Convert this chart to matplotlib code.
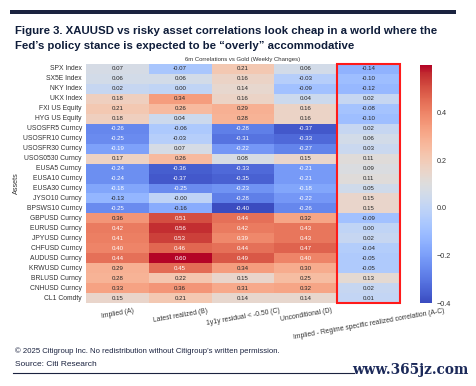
import matplotlib
matplotlib.use("Agg")
import matplotlib.pyplot as plt
import numpy as np
import pandas as pd
import seaborn as sns
from matplotlib.patches import Rectangle
from matplotlib.lines import Line2D

assets = ["SPX Index", "SX5E Index", "NKY Index", "UKX Index", "FXI US Equity",
          "HYG US Equity", "USOSFR5 Curncy", "USOSFR10 Curncy", "USOSFR30 Curncy",
          "USOS0530 Curncy", "EUSA5 Curncy", "EUSA10 Curncy", "EUSA30 Curncy",
          "JYSO10 Curncy", "BPSWS10 Curncy", "GBPUSD Curncy", "EURUSD Curncy",
          "JPYUSD Curncy", "CHFUSD Curncy", "AUDUSD Curncy", "KRWUSD Curncy",
          "BRLUSD Curncy", "CNHUSD Curncy", "CL1 Comdty"]
columns = ["Implied (A)", "Latest realized (B)", "1y1y residual < -0.50 (C)",
           "Unconditional (D)", "Implied - Regime specific realized correlation (A-C)"]

implied_a = [0.07, 0.06, 0.02, 0.18, 0.21, 0.18, -0.26, -0.25, -0.19, 0.17, -0.24, -0.24,
             -0.18, -0.13, -0.25, 0.36, 0.42, 0.41, 0.40, 0.44, 0.29, 0.28, 0.33, 0.15]
latest_b = [-0.07, 0.06, 0.00, 0.34, 0.26, 0.04, -0.06, -0.03, 0.07, 0.26, -0.36, -0.37,
            -0.25, -0.004, -0.16, 0.51, 0.56, 0.53, 0.46, 0.60, 0.45, 0.22, 0.36, 0.21]
resid_c = [0.21, 0.16, 0.14, 0.16, 0.29, 0.28, -0.28, -0.31, -0.22, 0.08, -0.33, -0.35,
           -0.23, -0.28, -0.40, 0.44, 0.42, 0.39, 0.44, 0.49, 0.34, 0.15, 0.31, 0.14]
uncond_d = [0.06, -0.03, -0.09, 0.04, 0.16, 0.16, -0.37, -0.33, -0.27, 0.15, -0.21, -0.21,
            -0.18, -0.22, -0.26, 0.32, 0.43, 0.43, 0.47, 0.40, 0.30, 0.25, 0.32, 0.14]
diff_ac = [-0.14, -0.10, -0.12, 0.02, -0.08, -0.10, 0.02, 0.06, 0.03, 0.11, 0.09, 0.11,
           0.05, 0.15, 0.15, -0.09, 0.00, 0.02, -0.04, -0.05, -0.05, 0.13, 0.02, 0.01]
cbar_ticks = [0.4, 0.2, 0.0, -0.2, -0.4]

df = pd.DataFrame({c: v for c, v in zip(columns, [implied_a, latest_b, resid_c, uncond_d, diff_ac])},
                  index=assets)

W, H = 476, 386
fig = plt.figure(figsize=(W / 100, H / 100), dpi=100)
plt.rcParams['font.family'] = ['Liberation Sans', 'DejaVu Sans']

def px(x0, y0, w, h):
    return [x0 / W, 1 - (y0 + h) / H, w / W, h / H]

ax = fig.add_axes(px(86, 64, 314, 239))
cax = fig.add_axes(px(420, 65, 12, 238))

sns.heatmap(df, ax=ax, cbar_ax=cax, cmap="coolwarm", annot=True, fmt=".2f",
            annot_kws={"fontsize": 4.4}, linewidths=0,
            xticklabels=True, yticklabels=True)

ax.set_ylabel("Assets", fontsize=5.2, color="#333333", labelpad=2)
ax.set_xlabel("")
ax.tick_params(axis="both", length=0, labelsize=4.9, colors="#333333", pad=3)
ax.set_xticklabels(columns, rotation=10, ha="center", fontsize=4.9)
ax.set_yticklabels(assets, rotation=0, fontsize=4.9)
ax.set_title("6m Correlations vs Gold (Weekly Changes)", fontsize=4.3, color="#333333", pad=2)

# red box around the last column
n = len(assets)
ax.add_patch(Rectangle((4, 0), 1, n, fill=False, edgecolor="#ff1a1a", linewidth=1.5,
                       clip_on=False, zorder=5))

cax.set_yticks(cbar_ticks)
cax.tick_params(length=0, labelsize=5.2, colors="#333333", pad=3.5)

# header bar and title
fig.add_artist(Rectangle((10 / W, 1 - 14 / H), 446 / W, 3.5 / H, transform=fig.transFigure,
                         color="#1b2340", lw=0))
title_color = "#0f1d3a"
fig.text(15 / W, 1 - 31 / H, "Figure 3. XAUUSD vs risky asset correlations look cheap in a world where the",
         fontsize=8.2, fontweight="bold", color=title_color, va="center", ha="left")
fig.text(15 / W, 1 - 46 / H, "Fed\u2019s policy stance is expected to be \u201coverly\u201d accommodative",
         fontsize=8.2, fontweight="bold", color=title_color, va="center", ha="left")

# footer
fig.text(15 / W, 1 - 351 / H, "\u00a9 2025 Citigroup Inc. No redistribution without Citigroup\u2019s written permission.",
         fontsize=5.6, color="#1b2340", va="center", ha="left")
fig.text(15 / W, 1 - 364 / H, "Source: Citi Research", fontsize=6.0, color="#1b2340", va="center", ha="left")
fig.add_artist(Line2D([13 / W, 354 / W], [1 - 373 / H, 1 - 373 / H], transform=fig.transFigure,
                      color="#1b2340", lw=0.8))
fig.text(468 / W, 1 - 370 / H, "www.365jz.com", fontsize=9.8, fontweight="bold", color="#1c2a5a",
         va="center", ha="right", family="DejaVu Serif")

fig.savefig("out.png", dpi=100)
